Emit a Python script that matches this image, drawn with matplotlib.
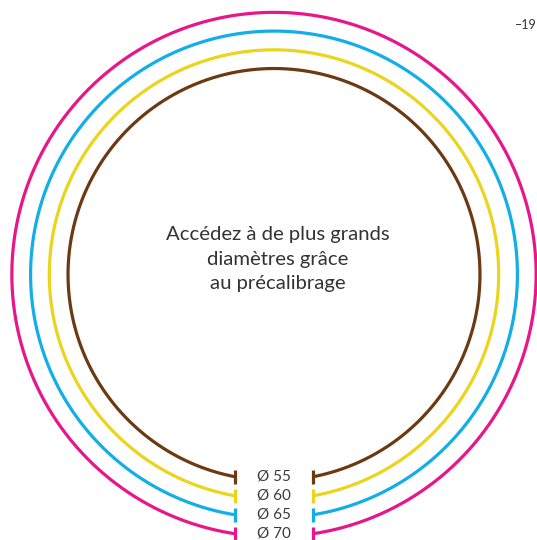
import numpy as np
import matplotlib
matplotlib.use('Agg')
import matplotlib.pyplot as plt

# diameters shown on the rings (mm)
diameters = [55, 60, 65, 70]
labels = ['Ø 55', 'Ø 60', 'Ø 65', 'Ø 70']
colors = ['#6B3A12', '#EBD51C', '#12AEE8', '#E8168A']
center_text = 'Accédez à de plus grands\ndiamètres grâce\nau précalibrage'
page_no = '–19'

W, H = 537, 540
fig = plt.figure(figsize=(W / 100, H / 100), dpi=100)
ax = fig.add_axes([0, 0, 1, 1])
ax.set_xlim(0, W)
ax.set_ylim(H, 0)
ax.set_aspect('equal')
ax.axis('off')

cx, cy = 274, 274.5
scale = 3.745      # px per mm of diameter
gap = 39           # half width of the opening at the bottom
tick = 7

for d, lab, c in zip(diameters, labels, colors):
    r = d * scale
    t0 = np.arcsin(gap / r)
    t = np.linspace(t0, 2 * np.pi - t0, 600)
    ax.plot(cx + r * np.sin(t), cy + r * np.cos(t), color=c, lw=2.3,
            solid_capstyle='butt')
    ye = cy + r * np.cos(t0)
    for xe in (cx - gap, cx + gap):
        ax.plot([xe, xe], [ye - tick, ye + tick], color=c, lw=2.3,
                solid_capstyle='butt')
    ax.text(cx, ye, lab, ha='center', va='center', fontsize=11,
            color='#3a3a3a', family='Lato')

ax.text(cx + 4, 259, center_text, ha='center', va='center', fontsize=14.6,
        color='#333333', family='Lato', linespacing=1.55)
ax.text(526, 25, page_no, ha='center', va='center', fontsize=9,
        color='#333333', family='Lato')

fig.savefig('out.png', dpi=100)
